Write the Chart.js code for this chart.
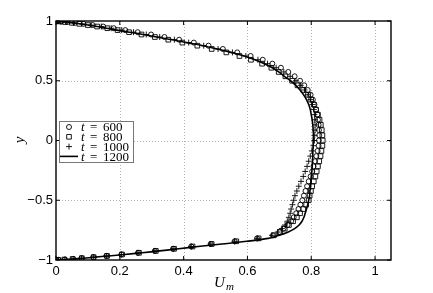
<!DOCTYPE html>
<html>
<head>
<meta charset="utf-8">
<script src="https://cdn.jsdelivr.net/npm/chart.js@4.4.1/dist/chart.umd.min.js"></script>
<style>
html, body { margin: 0; padding: 0; background: #fff; }
</style>
</head>
<body>
<canvas id="myChart" width="433" height="293"></canvas>
<script>
// 壁から壁までのサンプル位置 y
const yPos = [1, 0.999, 0.9962, 0.9914, 0.9848, 0.9763, 0.9659, 0.9537, 0.9397, 0.9239,
  0.9063, 0.887, 0.866, 0.8434, 0.8192, 0.7934, 0.766, 0.7373, 0.7071, 0.6756,
  0.6428, 0.6088, 0.5736, 0.5373, 0.5, 0.4618, 0.4226, 0.3827, 0.342, 0.3007,
  0.2588, 0.2164, 0.1736, 0.1305, 0.0872, 0.0436, 0,
  -0.0436, -0.0872, -0.1305, -0.1736, -0.2164, -0.2588, -0.3007, -0.342, -0.3827, -0.4226,
  -0.4618, -0.5, -0.5373, -0.5736, -0.6088, -0.6428, -0.6756, -0.7071, -0.7373, -0.766,
  -0.7934, -0.8192, -0.8434, -0.866, -0.887, -0.9063, -0.9239, -0.9397, -0.9537, -0.9659,
  -0.9763, -0.9848, -0.9914, -0.9962, -0.999, -1];

// 各時刻の U_m
const u600 = [0, 0.004, 0.017, 0.036, 0.06, 0.086, 0.115, 0.148, 0.181, 0.217,
  0.256, 0.298, 0.34, 0.386, 0.432, 0.478, 0.523, 0.568, 0.61, 0.648,
  0.678, 0.705, 0.728, 0.748, 0.765, 0.778, 0.789, 0.798, 0.805, 0.81,
  0.815, 0.819, 0.821, 0.823, 0.824, 0.825, 0.824,
  0.823, 0.82, 0.816, 0.812, 0.807, 0.803, 0.798, 0.792, 0.787, 0.782,
  0.777, 0.772, 0.766, 0.76, 0.753, 0.745, 0.737, 0.726, 0.713, 0.7,
  0.68, 0.63, 0.56, 0.485, 0.424, 0.367, 0.31, 0.257, 0.205, 0.158,
  0.117, 0.08, 0.054, 0.028, 0.008, 0];
const u800 = [0, 0.003, 0.012, 0.028, 0.05, 0.073, 0.1, 0.129, 0.161, 0.193,
  0.229, 0.268, 0.31, 0.352, 0.396, 0.443, 0.488, 0.534, 0.575, 0.611,
  0.646, 0.675, 0.698, 0.719, 0.74, 0.757, 0.775, 0.79, 0.8, 0.808,
  0.815, 0.821, 0.826, 0.83, 0.833, 0.835, 0.836,
  0.835, 0.832, 0.829, 0.825, 0.821, 0.817, 0.813, 0.808, 0.803, 0.799,
  0.795, 0.792, 0.784, 0.775, 0.765, 0.755, 0.743, 0.73, 0.717, 0.703,
  0.683, 0.635, 0.565, 0.488, 0.428, 0.37, 0.313, 0.26, 0.207, 0.16,
  0.118, 0.081, 0.052, 0.026, 0.007, 0];
const u1000 = [0, 0.004, 0.014, 0.032, 0.055, 0.081, 0.11, 0.142, 0.173, 0.206,
  0.243, 0.283, 0.325, 0.371, 0.416, 0.463, 0.508, 0.553, 0.595, 0.633,
  0.663, 0.69, 0.714, 0.734, 0.752, 0.767, 0.779, 0.79, 0.798, 0.804,
  0.808, 0.81, 0.811, 0.812, 0.812, 0.811, 0.81,
  0.807, 0.802, 0.797, 0.792, 0.787, 0.781, 0.775, 0.768, 0.761, 0.755,
  0.749, 0.745, 0.741, 0.737, 0.734, 0.73, 0.725, 0.718, 0.708, 0.695,
  0.677, 0.632, 0.56, 0.485, 0.424, 0.367, 0.31, 0.257, 0.205, 0.158,
  0.117, 0.08, 0.054, 0.028, 0.008, 0];
const u1200 = [0, 0.003, 0.012, 0.028, 0.05, 0.074, 0.1, 0.129, 0.158, 0.19,
  0.23, 0.273, 0.315, 0.365, 0.41, 0.46, 0.505, 0.548, 0.59, 0.623,
  0.653, 0.678, 0.698, 0.716, 0.735, 0.752, 0.765, 0.776, 0.785, 0.792,
  0.797, 0.8, 0.803, 0.805, 0.806, 0.807, 0.806,
  0.806, 0.805, 0.805, 0.804, 0.803, 0.802, 0.8, 0.799, 0.798, 0.796,
  0.795, 0.792, 0.789, 0.785, 0.781, 0.777, 0.771, 0.762, 0.748, 0.728,
  0.7, 0.665, 0.6, 0.52, 0.445, 0.385, 0.325, 0.27, 0.215, 0.165,
  0.122, 0.085, 0.052, 0.024, 0.007, 0];

const times = ['600', '800', '1000', '1200'];
const xTicks = [0, 0.2, 0.4, 0.6, 0.8, 1];
const yTicks = [-1, -0.5, 0, 0.5, 1];

const pts = u => u.map((v, i) => ({ x: v, y: yPos[i] }));
const fmt = v => (v < 0 ? '\u2212' + Math.abs(v) : String(v));

function drawMarker(ctx, kind, x, y) {
  ctx.beginPath();
  if (kind === 'circle') {
    ctx.arc(x, y, 2.5, 0, Math.PI * 2);
  } else if (kind === 'rect') {
    ctx.rect(x - 2.3, y - 2.3, 4.6, 4.6);
  } else if (kind === 'cross') {
    ctx.moveTo(x - 3, y); ctx.lineTo(x + 3, y);
    ctx.moveTo(x, y - 3); ctx.lineTo(x, y + 3);
  } else {
    ctx.moveTo(x - 9, y); ctx.lineTo(x + 9, y);
  }
  ctx.stroke();
}

const frame = {
  id: 'frame',
  beforeDatasetsDraw(chart) {
    const { ctx, chartArea: a, scales: { x, y } } = chart;
    ctx.save();
    ctx.strokeStyle = '#b0b0b0';
    ctx.lineWidth = 1;
    ctx.setLineDash([1, 2]);
    ctx.beginPath();
    xTicks.slice(1).forEach(v => {
      const px = Math.round(x.getPixelForValue(v)) + 0.5;
      ctx.moveTo(px, a.top); ctx.lineTo(px, a.bottom);
    });
    yTicks.slice(1, -1).forEach(v => {
      const py = Math.round(y.getPixelForValue(v)) + 0.5;
      ctx.moveTo(a.left, py); ctx.lineTo(a.right, py);
    });
    ctx.stroke();
    ctx.restore();
  },
  afterDatasetsDraw(chart) {
    const { ctx, chartArea: a, scales: { x, y } } = chart;
    ctx.save();
    // 枠と内向きの目盛り
    ctx.strokeStyle = '#000';
    ctx.lineWidth = 1.4;
    ctx.strokeRect(a.left, a.top, a.right - a.left, a.bottom - a.top);
    ctx.lineWidth = 1;
    ctx.beginPath();
    xTicks.forEach(v => {
      const px = x.getPixelForValue(v);
      ctx.moveTo(px, a.bottom); ctx.lineTo(px, a.bottom - 4);
      ctx.moveTo(px, a.top); ctx.lineTo(px, a.top + 4);
    });
    yTicks.forEach(v => {
      const py = y.getPixelForValue(v);
      ctx.moveTo(a.left, py); ctx.lineTo(a.left + 4, py);
      ctx.moveTo(a.right, py); ctx.lineTo(a.right - 4, py);
    });
    ctx.stroke();

    // 凡例
    const bx = 59, by = 121, bw = 74, bh = 41;
    ctx.fillStyle = '#fff';
    ctx.fillRect(bx, by, bw, bh);
    ctx.strokeStyle = '#777';
    ctx.lineWidth = 1;
    ctx.strokeRect(bx + 0.5, by + 0.5, bw, bh);
    chart.data.datasets.forEach((ds, i) => {
      const cy = by + 6 + i * 9.8;
      ctx.strokeStyle = '#000';
      ctx.lineWidth = ds.showLine ? 1.6 : 0.9;
      drawMarker(ctx, ds.showLine ? 'line' : ds.pointStyle, 69, cy);
      ctx.fillStyle = '#000';
      ctx.textBaseline = 'middle';
      ctx.textAlign = 'left';
      ctx.font = 'italic 13px "Liberation Serif"';
      ctx.fillText('t', 81, cy + 1);
      ctx.font = '13px "Liberation Serif"';
      ctx.fillText('=', 90, cy + 1);
      ctx.fillText(times[i], 103, cy + 1);
    });

    // 軸タイトル
    ctx.fillStyle = '#000';
    ctx.textBaseline = 'alphabetic';
    ctx.textAlign = 'left';
    ctx.font = 'italic 15px "Liberation Serif"';
    ctx.fillText('U', 214, 287);
    ctx.font = 'italic 11px "Liberation Serif"';
    ctx.fillText('m', 226, 290);
    ctx.translate(24, 140);
    ctx.rotate(-Math.PI / 2);
    ctx.textAlign = 'center';
    ctx.font = 'italic 15px "Liberation Serif"';
    ctx.fillText('y', 0, 0);
    ctx.restore();
  }
};

const tickFont = { family: 'Liberation Sans', size: 13 };

const ctx = document.getElementById('myChart').getContext('2d');
new Chart(ctx, {
  type: 'scatter',
  data: {
    datasets: [
      { label: 't = 600', data: pts(u600), pointStyle: 'circle', pointRadius: 2.5,
        borderColor: '#000', backgroundColor: 'rgba(0,0,0,0)', pointBorderWidth: 0.9 },
      { label: 't = 800', data: pts(u800), pointStyle: 'rect', pointRadius: 3.3,
        borderColor: '#000', backgroundColor: 'rgba(0,0,0,0)', pointBorderWidth: 0.9 },
      { label: 't = 1000', data: pts(u1000), pointStyle: 'cross', pointRadius: 3,
        borderColor: '#000', backgroundColor: 'rgba(0,0,0,0)', pointBorderWidth: 0.9 },
      { label: 't = 1200', data: pts(u1200), showLine: true, pointRadius: 0,
        borderColor: '#000', borderWidth: 1.6, tension: 0.3 }
    ]
  },
  options: {
    responsive: false,
    animation: false,
    events: [],
    devicePixelRatio: 1,
    layout: { padding: { top: 21, right: 42, left: 0, bottom: 0 } },
    plugins: { legend: { display: false }, tooltip: { enabled: false } },
    scales: {
      x: {
        type: 'linear', min: 0, max: 1.05,
        afterBuildTicks: s => { s.ticks = xTicks.map(v => ({ value: v })); },
        afterFit: s => { s.height = 33; },
        grid: { display: false, drawTicks: false },
        border: { display: false },
        ticks: { font: tickFont, color: '#000', padding: 4, maxRotation: 0, autoSkip: false, callback: fmt }
      },
      y: {
        type: 'linear', min: -1, max: 1,
        afterBuildTicks: s => { s.ticks = yTicks.map(v => ({ value: v })); },
        afterFit: s => { s.width = 56; },
        grid: { display: false, drawTicks: false },
        border: { display: false },
        ticks: { font: tickFont, color: '#000', padding: 3, autoSkip: false, callback: fmt }
      }
    }
  },
  plugins: [frame]
});
</script>
</body>
</html>
